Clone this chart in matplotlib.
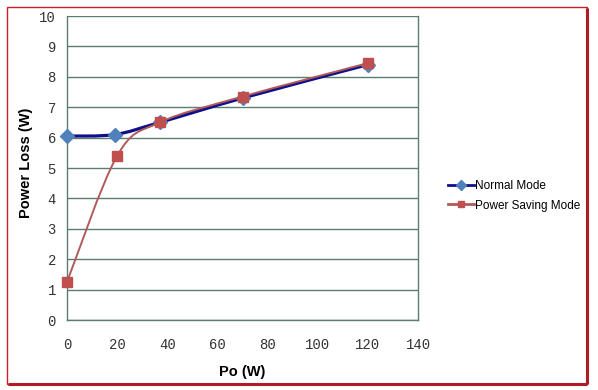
import numpy as np
import matplotlib
matplotlib.use('Agg')
import matplotlib.pyplot as plt
from matplotlib.path import Path
from matplotlib.patches import PathPatch, Rectangle
from matplotlib.lines import Line2D

# data
po = [0, 19, 37, 70, 120]
normal_loss = [6.05, 6.1, 6.5, 7.3, 8.4]
po_saving = [0, 20, 37, 70, 120]
saving_loss = [1.25, 5.4, 6.5, 7.35, 8.45]

x_ticks = [0, 20, 40, 60, 80, 100, 120, 140]
y_ticks = [0, 1, 2, 3, 4, 5, 6, 7, 8, 9, 10]


def smooth_path(xs, ys):
    # excel style smoothed line: cubic bezier through the points
    p = np.column_stack([xs, ys]).astype(float)
    n = len(p)
    verts = [p[0]]
    codes = [Path.MOVETO]
    for i in range(n - 1):
        p0 = p[i - 1] if i > 0 else p[i]
        p3 = p[i + 2] if i + 2 < n else p[i + 1]
        c1 = p[i] + (p[i + 1] - p0) / 6.0
        c2 = p[i + 1] - (p3 - p[i]) / 6.0
        verts += [c1, c2, p[i + 1]]
        codes += [Path.CURVE4] * 3
    return Path(verts, codes)


fig = plt.figure(figsize=(5.98, 3.90), dpi=100)
ax = fig.add_axes([67 / 598, 1 - 320 / 390, (418 - 67) / 598, (320 - 16) / 390])

grid_c = '#5b7c70'
ax.set_xlim(0, 140)
ax.set_ylim(0, 10)
ax.set_xticks(x_ticks)
ax.set_yticks(y_ticks)
ax.yaxis.grid(True, color=grid_c, lw=1.0)
ax.set_axisbelow(True)
for s in ['left', 'bottom', 'right']:
    ax.spines[s].set_color(grid_c)
    ax.spines[s].set_linewidth(1.0)
ax.spines['top'].set_visible(False)
ax.tick_params(length=0, labelsize=10, colors='#333333')
for lab in ax.get_xticklabels() + ax.get_yticklabels():
    lab.set_fontfamily('Liberation Mono')
ax.tick_params(axis='y', pad=8)
ax.tick_params(axis='x', pad=13)

navy = '#10108a'
red_line = '#b05a5a'
ax.add_patch(PathPatch(smooth_path(po, normal_loss), fc='none', ec=navy, lw=2.3, zorder=3))
ax.plot(po, normal_loss, ls='none', marker='D', ms=7, color='#4f81bd', zorder=4, clip_on=False)
ax.add_patch(PathPatch(smooth_path(po_saving, saving_loss), fc='none', ec=red_line, lw=1.4, zorder=5))
ax.plot(po_saving, saving_loss, ls='none', marker='s', ms=7, color='#c0504d', zorder=6, clip_on=False)

ax.set_xlabel('Po (W)', fontsize=10.5, fontweight='bold', family='Liberation Sans', labelpad=9)
ax.set_ylabel('Power Loss (W)', fontsize=10.5, fontweight='bold', family='Liberation Sans')
ax.yaxis.set_label_coords(-0.097, 0.516)

handles = [Line2D([], [], color=navy, lw=2, marker='D', ms=5, mfc='#4f81bd', mec='#4f81bd'),
           Line2D([], [], color=red_line, lw=2, marker='s', ms=5, mfc='#c0504d', mec='#c0504d')]
fig.legend(handles, ['Normal Mode', 'Power Saving Mode'], loc='center left',
           bbox_to_anchor=(437 / 598, 1 - 196 / 390), frameon=False,
           prop={'family': 'Liberation Sans', 'size': 8.5}, handlelength=2.2,
           handletextpad=0.1, labelspacing=0.6)

# red frame round the chart
fig.patches.append(Rectangle((7 / 598, 1 - 384 / 390), 580 / 598, 377 / 390,
                             transform=fig.transFigure, fill=False,
                             ec='#c8202a', lw=1.0))
fig.patches.append(Rectangle((8 / 598, 1 - 384 / 390), 579 / 598, 0,
                             transform=fig.transFigure, fill=False,
                             ec='#b01c24', lw=2.2))
fig.patches.append(Rectangle((587 / 598, 1 - 384 / 390), 0, 376 / 390,
                             transform=fig.transFigure, fill=False,
                             ec='#b01c24', lw=2.2))

fig.savefig('out.png', dpi=100)
